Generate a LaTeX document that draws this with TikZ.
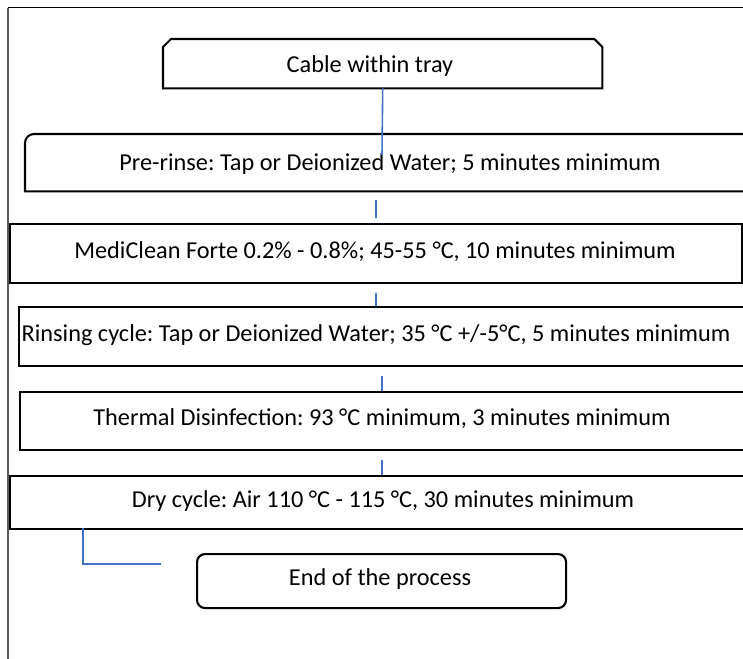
\documentclass[tikz,border=0pt]{standalone}
\usepackage{fontspec}
\setmainfont{Carlito}
\frenchspacing
\definecolor{linkblue}{HTML}{4472C4}
\definecolor{framegray}{HTML}{595959}
\tikzset{
  box/.style={draw=black, line width=2.1pt, inner sep=0pt},
  boxshape/.style={inner sep=0pt, anchor=north west},
  label text/.style={font=\fontsize{24.3}{28}\selectfont, inner sep=0pt},
  link/.style={draw=linkblue, line width=1.6pt},
}
\begin{document}
\begin{tikzpicture}[x=1pt, y=-1pt]
\useasboundingbox (0,0) rectangle (743,658);
\clip (0,0) rectangle (743,658);
\fill[white] (0,0) rectangle (743,658);

% page frame
\draw[black, line width=1pt] (8,8) -- (770,8);
\draw[framegray, line width=1.8pt] (8,8) -- (8,670);

% start box with snipped top corners
\node[boxshape, minimum width=439pt, minimum height=49pt] (cable) at (163,39) {};
\draw[box] (cable.south west) -- ([yshift=-8pt]cable.north west) -- ([xshift=8pt]cable.north west)
  -- ([xshift=-8pt]cable.north east) -- ([yshift=-8pt]cable.north east) -- (cable.south east) -- cycle;
\node[label text] (cable-t) at (370,66) {Cable within tray};

% pre-rinse box, rounded top-left corner
\node[boxshape, minimum width=745pt, minimum height=57pt] (pre) at (25,134) {};
\draw[box] (pre.south west) [rounded corners=9pt] -- (pre.north west) [sharp corners] -- (pre.north east) -- (pre.south east) -- cycle;
\node[label text] (pre-t) at (390,164) {Pre-rinse: Tap or Deionized Water; 5 minutes minimum};

% detergent box
\node[box, boxshape, minimum width=732.5pt, minimum height=59pt] (medi) at (8.5,223) {};
\node[label text] (medi-t) at (375,252) {MediClean Forte 0.2\% - 0.8\%; 45-55 °C, 10 minutes minimum};

% rinsing box
\node[box, boxshape, minimum width=752pt, minimum height=59pt] (rinse) at (17.5,306) {};
\node[label text] (rinse-t) at (376,335) {Rinsing cycle: Tap or Deionized Water; 35 °C +/-5°C, 5 minutes minimum};

% thermal disinfection box
\node[box, boxshape, minimum width=751pt, minimum height=58pt] (therm) at (19,391) {};
\node[label text] (therm-t) at (382,419) {Thermal Disinfection: 93 °C minimum, 3 minutes minimum};

% drying box
\node[box, boxshape, minimum width=762pt, minimum height=53pt] (dry) at (8.5,475) {};
\node[label text] (dry-t) at (383,501) {Dry cycle: Air 110 °C - 115 °C, 30 minutes minimum};

% end box
\node[box, boxshape, rounded corners=8pt, minimum width=369pt, minimum height=54pt] (end) at (196,553) {};
\node[label text] (end-t) at (380,579) {End of the process};

% connector ends
\coordinate (c1) at (382,155);
\coordinate (d1a) at (376,200);
\coordinate (d1b) at (376,218);
\coordinate (d2a) at (376,293);
\coordinate (d2b) at (376,306);
\coordinate (d3a) at (382,376);
\coordinate (d3b) at (382,391);
\coordinate (d4a) at (382,460);
\coordinate (d4b) at (382,475);
\coordinate (e0) at (83,528);
\coordinate (e1) at (83,564);
\coordinate (e2) at (161,564);

% connectors
\draw[link] (cable.south) -- (c1);
\draw[link] (d1a) -- (d1b);
\draw[link] (d2a) -- (d2b);
\draw[link] (d3a) -- (d3b);
\draw[link] (d4a) -- (d4b);
\draw[link] (e0) -- (e1) -- (e2);
\end{tikzpicture}
\end{document}
